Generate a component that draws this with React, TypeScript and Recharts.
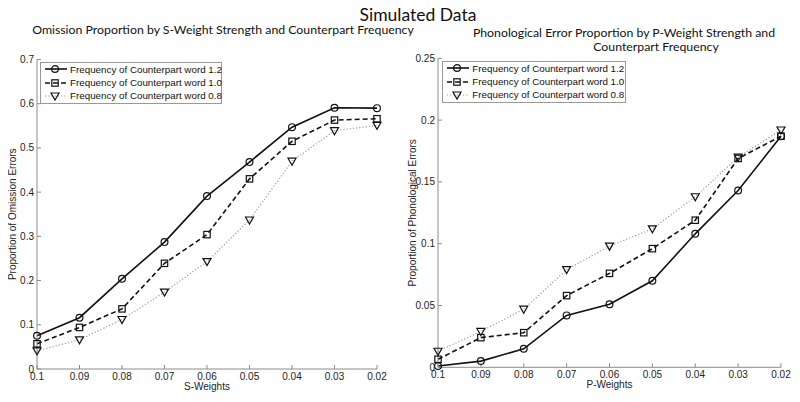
import { LineChart, Line, XAxis, YAxis, Legend } from "recharts";

const weights = [0.1, 0.09, 0.08, 0.07, 0.06, 0.05, 0.04, 0.03, 0.02];
const weightTicks = [0.1, 0.09, 0.08, 0.07, 0.06, 0.05, 0.04, 0.03, 0.02];

const omission12 = [0.075, 0.116, 0.204, 0.287, 0.391, 0.468, 0.547, 0.591, 0.59];
const omission10 = [0.057, 0.094, 0.136, 0.239, 0.304, 0.43, 0.515, 0.563, 0.566];
const omission08 = [0.041, 0.066, 0.112, 0.174, 0.243, 0.337, 0.47, 0.539, 0.551];
const omissionTicks = [0, 0.1, 0.2, 0.3, 0.4, 0.5, 0.6, 0.7];

const phon12 = [0.001, 0.005, 0.015, 0.042, 0.051, 0.07, 0.108, 0.143, 0.187];
const phon10 = [0.0065, 0.024, 0.028, 0.058, 0.076, 0.096, 0.119, 0.169, 0.187];
const phon08 = [0.013, 0.029, 0.047, 0.079, 0.098, 0.112, 0.138, 0.17, 0.192];
const phonTicks = [0, 0.05, 0.1, 0.15, 0.2, 0.25];

const seriesNames = [
  "Frequency of Counterpart word 1.2",
  "Frequency of Counterpart word 1.0",
  "Frequency of Counterpart word 0.8",
];

type Shape = "circle" | "square" | "triangle";

const series: { key: string; shape: Shape; stroke: string; dash?: string; width: number }[] = [
  { key: "f12", shape: "circle", stroke: "#111", width: 1.6 },
  { key: "f10", shape: "square", stroke: "#111", dash: "5 3", width: 1.6 },
  { key: "f08", shape: "triangle", stroke: "#9a9a9a", dash: "1.2 2", width: 1.2 },
];

const leftData = weights.map((w, i) => ({ w, f12: omission12[i], f10: omission10[i], f08: omission08[i] }));
const rightData = weights.map((w, i) => ({ w, f12: phon12[i], f10: phon10[i], f08: phon08[i] }));

const tickFont = { fill: "#222", fontSize: 10, fontFamily: "'Liberation Sans', Arial, sans-serif" };
const axisGray = "#8c8c8c";
const fmt = (v: number) => String(Number(v.toFixed(3)));

function Marker({ cx, cy, shape }: { cx: number; cy: number; shape: Shape }) {
  const common = { fill: "none", stroke: "#111", strokeWidth: 1.2 };
  if (shape === "circle") return <circle cx={cx} cy={cy} r={3.4} {...common} />;
  if (shape === "square") return <rect x={cx - 3.2} y={cy - 3.2} width={6.4} height={6.4} {...common} />;
  return <path d={`M${cx - 4},${cy - 3} L${cx + 4},${cy - 3} L${cx},${cy + 4} Z`} {...common} />;
}

function LegendBox({ width }: { width: number }) {
  return (
    <div
      style={{
        width,
        boxSizing: "border-box",
        border: "1px solid #999",
        background: "#fff",
        padding: "0 2px",
        fontFamily: "'Liberation Sans', Arial, sans-serif",
        fontSize: 9.8,
        color: "#111",
      }}
    >
      {series.map((s, i) => (
        <div key={s.key} style={{ display: "flex", alignItems: "center", height: 13.3, whiteSpace: "nowrap" }}>
          <svg width={26} height={12} style={{ flex: "none" }}>
            <line x1={2} x2={24} y1={6} y2={6} stroke={s.stroke} strokeWidth={s.width} strokeDasharray={s.dash} />
            <Marker cx={12} cy={6} shape={s.shape} />
          </svg>
          <span style={{ marginLeft: 1 }}>{seriesNames[i]}</span>
        </div>
      ))}
    </div>
  );
}

const yLabel = (text: string, dx: number) => (props: any) => {
  const vb = props.viewBox;
  const x = vb.x + dx;
  const y = vb.y + vb.height / 2;
  return (
    <text
      x={x}
      y={y}
      transform={`rotate(-90 ${x} ${y})`}
      textAnchor="middle"
      dominantBaseline="central"
      {...tickFont}
    >
      {text}
    </text>
  );
};

const xLabel = (text: string, dy: number) => (props: any) => {
  const vb = props.viewBox;
  return (
    <text x={vb.x + vb.width / 2} y={vb.y + dy} textAnchor="middle" {...tickFont}>
      {text}
    </text>
  );
};

function Panel(props: {
  data: any[];
  left: number;
  top: number;
  right: number;
  yWidth: number;
  xHeight: number;
  yMax: number;
  yTicks: number[];
  yTitle: string;
  xTitle: string;
  legendLeft: number;
  legendTop: number;
  legendWidth: number;
}) {
  return (
    <LineChart
      width={400}
      height={402}
      data={props.data}
      margin={{ top: props.top, right: props.right, bottom: 0, left: 0 }}
      style={{ position: "absolute", left: props.left, top: 0 }}
    >
      <XAxis
        dataKey="w"
        type="number"
        domain={[0.02, 0.1]}
        reversed
        ticks={weightTicks}
        tickFormatter={fmt}
        tick={tickFont}
        height={props.xHeight}
        stroke={axisGray}
        tickSize={-4}
        tickMargin={8}
        label={{ content: xLabel(props.xTitle, 21) }}
      />
      <YAxis
        type="number"
        domain={[0, props.yMax]}
        ticks={props.yTicks}
        tickFormatter={fmt}
        tick={tickFont}
        width={props.yWidth}
        stroke={axisGray}
        tickSize={-4}
        tickMargin={7}
        label={{ content: yLabel(props.yTitle, 12.5) }}
      />
      <Legend
        layout="horizontal"
        verticalAlign="middle"
        align="center"
        wrapperStyle={{ left: props.legendLeft, top: props.legendTop, width: props.legendWidth }}
        content={() => <LegendBox width={props.legendWidth} />}
      />
      {[...series].reverse().map((s) => (
        <Line
          key={s.key}
          dataKey={s.key}
          type="linear"
          stroke={s.stroke}
          strokeWidth={s.width}
          strokeDasharray={s.dash}
          dot={(p: any) => <Marker key={`${s.key}-${p.index}`} cx={p.cx} cy={p.cy} shape={s.shape} />}
          activeDot={false}
          isAnimationActive={false}
        />
      ))}
    </LineChart>
  );
}

export default function App() {
  const titleFont = "Lato, 'Open Sans', sans-serif";
  return (
    <div style={{ position: "relative", width: 800, height: 402, margin: -8, background: "#fff", overflow: "hidden" }}>
      <Panel
        data={leftData}
        left={0}
        top={59.5}
        right={23}
        yWidth={37}
        xHeight={33}
        yMax={0.7}
        yTicks={omissionTicks}
        yTitle="Proportion of Omission Errors"
        xTitle="S-Weights"
        legendLeft={40}
        legendTop={61.7}
        legendWidth={182}
      />
      <Panel
        data={rightData}
        left={400}
        top={58.3}
        right={19}
        yWidth={38}
        xHeight={34.7}
        yMax={0.25}
        yTicks={phonTicks}
        yTitle="Proportion of Phonological Errors"
        xTitle="P-Weights"
        legendLeft={42.3}
        legendTop={60.7}
        legendWidth={184}
      />
      <svg width={800} height={60} style={{ position: "absolute", left: 0, top: 0, pointerEvents: "none" }}>
        <text x={418} y={21} textAnchor="middle" fontFamily={titleFont} fontSize={17.5} fill="#111">
          Simulated Data
        </text>
        <text x={223} y={34} textAnchor="middle" fontFamily={titleFont} fontSize={12.3} fill="#111">
          Omission Proportion by S-Weight Strength and Counterpart Frequency
        </text>
        <text x={624} y={37} textAnchor="middle" fontFamily={titleFont} fontSize={12.3} fill="#111">
          Phonological Error Proportion by P-Weight Strength and
        </text>
        <text x={656} y={51} textAnchor="middle" fontFamily={titleFont} fontSize={12.3} fill="#111">
          Counterpart Frequency
        </text>
      </svg>
    </div>
  );
}
